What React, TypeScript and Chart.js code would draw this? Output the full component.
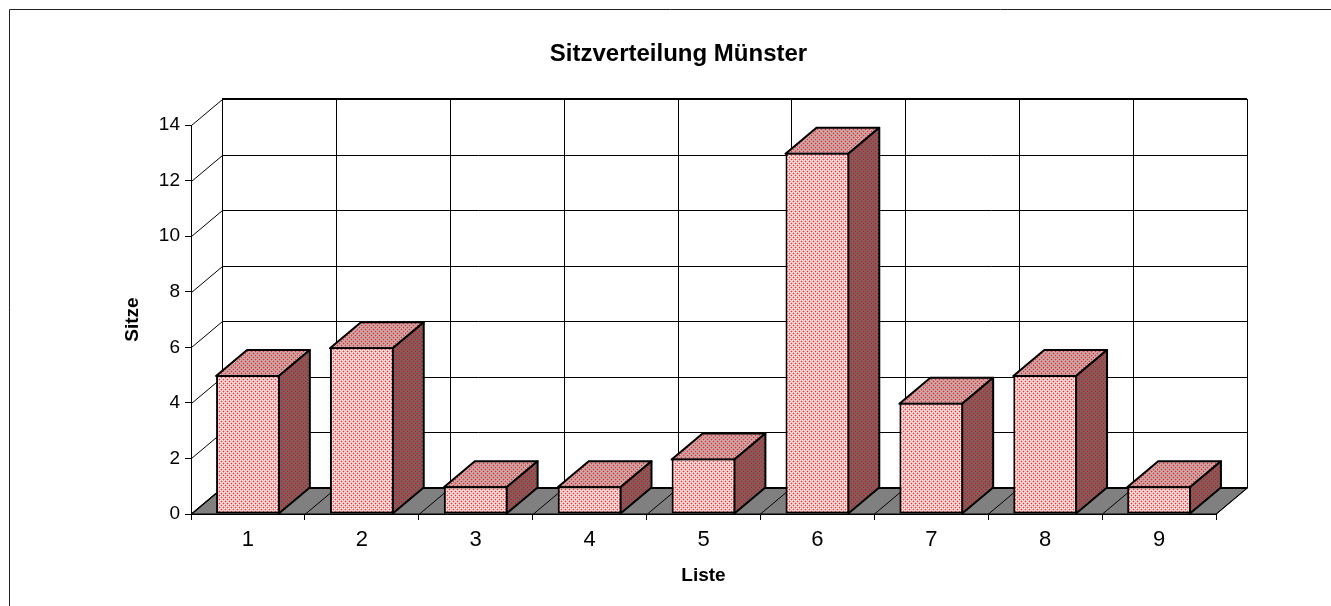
import React, { useEffect, useRef } from "react";
import { Chart, registerables } from "chart.js";

Chart.register(...registerables);

const categories = ["1", "2", "3", "4", "5", "6", "7", "8", "9"];
const seats = [5, 6, 1, 1, 2, 13, 4, 5, 1];
const titleText = "Sitzverteilung Münster";
const xTitleText = "Liste";
const yTitleText = "Sitze";

const FONT = "'Liberation Sans', Arial, sans-serif";
const DX = 31;
const DY = 26;

function makeTile(bg: string, dot: string, halo: string) {
  const c = document.createElement("canvas");
  c.width = 4;
  c.height = 4;
  const g = c.getContext("2d")!;
  g.fillStyle = bg;
  g.fillRect(0, 0, 4, 4);
  g.fillStyle = halo;
  for (const [x, y] of [[1, 0], [0, 1], [2, 1], [1, 2], [3, 2], [2, 3], [0, 3], [3, 0]]) {
    g.fillRect(x, y, 1, 1);
  }
  g.fillStyle = dot;
  g.fillRect(1, 1, 1, 1);
  g.fillRect(3, 3, 1, 1);
  return c;
}

const bars3d = {
  id: "bars3d",
  afterLayout(chart: any) {
    const t = chart.titleBlock;
    if (t) {
      t.left += 10;
      t.right += 10;
    }
  },
  beforeDatasetsDraw(chart: any) {
    const { ctx, scales } = chart;
    const x = scales.x;
    const y = scales.y;
    const left = x.left;
    const right = x.right;
    const base = y.getPixelForValue(0);
    const top = y.getPixelForValue(14);
    ctx.save();
    ctx.lineJoin = "round";

    ctx.strokeStyle = "#222";
    ctx.lineWidth = 1;
    ctx.beginPath();
    ctx.moveTo(9.5, 606);
    ctx.lineTo(9.5, 9.5);
    ctx.lineTo(1331, 9.5);
    ctx.stroke();

    ctx.fillStyle = "#808080";
    ctx.strokeStyle = "#000";
    ctx.beginPath();
    ctx.moveTo(left, base);
    ctx.lineTo(right, base);
    ctx.lineTo(right + DX, base - DY);
    ctx.lineTo(left + DX, base - DY);
    ctx.closePath();
    ctx.fill();
    ctx.lineWidth = 1;
    ctx.stroke();

    ctx.beginPath();
    y.ticks.forEach((t: any) => {
      const py = Math.round(y.getPixelForValue(t.value)) + 0.5;
      ctx.moveTo(left + 0.5, py);
      ctx.lineTo(left + DX + 0.5, py - DY);
      ctx.lineTo(right + DX + 0.5, py - DY);
    });
    const step = (right - left) / categories.length;
    for (let i = 0; i <= categories.length; i++) {
      const px = Math.round(left + step * i) + 0.5;
      ctx.moveTo(px, base);
      ctx.lineTo(px + DX, base - DY);
      ctx.lineTo(px + DX, top - DY);
    }
    ctx.stroke();
    ctx.lineWidth = 2;
    ctx.beginPath();
    ctx.moveTo(left + DX, top - DY);
    ctx.lineTo(right + DX, top - DY);
    ctx.moveTo(left + DX, base - DY);
    ctx.lineTo(right + DX, base - DY);
    ctx.stroke();

    const sidePattern = ctx.createPattern(makeTile("#806060", "#bc2020", "#8e5050"), "repeat");
    const topPattern = ctx.createPattern(makeTile("#ccaeae", "#e03030", "#cc8a8a"), "repeat");
    chart.getDatasetMeta(0).data.forEach((bar: any) => {
      const l = bar.x - bar.width / 2;
      const r = bar.x + bar.width / 2 - 1;
      const t = bar.y + 1;
      const b = bar.base;
      ctx.strokeStyle = "#000";
      ctx.lineWidth = 2;
      ctx.fillStyle = topPattern;
      ctx.beginPath();
      ctx.moveTo(l, t);
      ctx.lineTo(l + DX, t - DY);
      ctx.lineTo(r + DX, t - DY);
      ctx.lineTo(r, t);
      ctx.closePath();
      ctx.fill();
      ctx.stroke();
      ctx.fillStyle = sidePattern;
      ctx.beginPath();
      ctx.moveTo(r, t);
      ctx.lineTo(r + DX, t - DY);
      ctx.lineTo(r + DX, b - DY);
      ctx.lineTo(r, b);
      ctx.closePath();
      ctx.fill();
      ctx.stroke();
    });
    ctx.restore();
  },
};

export default function App() {
  const ref = useRef<HTMLCanvasElement>(null);
  useEffect(() => {
    const canvas = ref.current!;
    const ctx = canvas.getContext("2d")!;
    const frontPattern = ctx.createPattern(makeTile("#ffeeee", "#ff3030", "#ffa8a8"), "repeat")!;
    const chart = new Chart(canvas, {
      type: "bar",
      data: {
        labels: categories,
        datasets: [
          {
            label: yTitleText,
            data: seats,
            backgroundColor: frontPattern,
            borderColor: "#000",
            borderWidth: 2,
            borderSkipped: false,
            categoryPercentage: 1,
            barPercentage: 0.56,
          },
        ],
      },
      options: {
        responsive: false,
        animation: false,
        devicePixelRatio: 1,
        layout: { padding: { left: 121, right: 115, top: 0, bottom: 0 } },
        plugins: {
          legend: { display: false },
          tooltip: { enabled: false },
          title: {
            display: true,
            text: titleText,
            color: "#000",
            font: { family: FONT, size: 24, weight: "bold" },
            padding: { top: 39.6, bottom: 56.6 },
          },
        },
        scales: {
          x: {
            grid: { drawOnChartArea: false, drawTicks: true, tickLength: 6, color: "#000", offset: true },
            border: { color: "#000", width: 1 },
            ticks: { color: "#000", font: { family: FONT, size: 22 }, padding: 7, maxRotation: 0 },
            title: {
              display: true,
              text: xTitleText,
              color: "#000",
              font: { family: FONT, size: 19, weight: "bold" },
              padding: { top: 0, bottom: 19 },
            },
            afterFit: (s: any) => {
              s.height = 92;
            },
          },
          y: {
            min: 0,
            max: 14,
            grid: { drawOnChartArea: false, drawTicks: true, tickLength: 6, color: "#000" },
            border: { color: "#000", width: 1 },
            ticks: { stepSize: 2, color: "#000", font: { family: FONT, size: 19 }, padding: 5 },
            title: {
              display: true,
              text: yTitleText,
              color: "#000",
              font: { family: FONT, size: 19, weight: "bold" },
              padding: { top: 0, bottom: 0 },
            },
            afterFit: (s: any) => {
              s.width = 70;
            },
          },
        },
      },
      plugins: [bars3d],
    } as any);
    return () => chart.destroy();
  }, []);
  return (
    <div style={{ position: "absolute", left: 0, top: 0, width: 1331, height: 606, background: "#fff" }}>
      <canvas ref={ref} width={1331} height={606} style={{ display: "block" }} />
    </div>
  );
}
